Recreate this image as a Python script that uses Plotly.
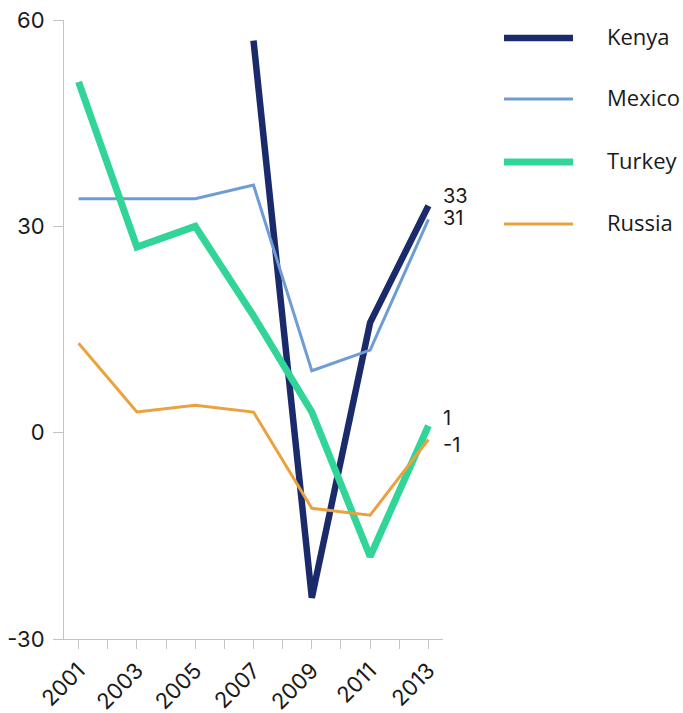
import plotly.graph_objects as go

# Data
years = [2001, 2003, 2005, 2007, 2009, 2011, 2013]
kenya = [None, None, None, 57, -24, 16, 33]
mexico = [34, 34, 34, 36, 9, 12, 31]
turkey = [51, 27, 30, 17, 3, -18, 1]
russia = [13, 3, 4, 3, -11, -12, -1]
y_ticks = [-30, 0, 30, 60]

series_names = ["Kenya", "Mexico", "Turkey", "Russia"]
series_values = [kenya, mexico, turkey, russia]

# Styling per series
colors = {"Kenya": "#1b2a6b", "Mexico": "#6d9dd4", "Turkey": "#30d597", "Russia": "#eba23e"}
widths = {"Kenya": 6.5, "Mexico": 3, "Turkey": 7, "Russia": 3}
label_yshift = {"Kenya": 10, "Mexico": 1, "Turkey": 8, "Russia": -5}

W, H = 683, 713
L, R, T, B = 64, 240, 20, 74
plot_w = W - L - R
plot_h = H - T - B

tick_font = dict(family="Inter, DejaVu Sans, sans-serif", size=22, color="#1a1a1a")
legend_font = dict(family="Open Sans, sans-serif", size=22, color="#1a1a1a")

fig = go.Figure()
for name, vals in zip(series_names, series_values):
    fig.add_trace(go.Scatter(
        x=years, y=vals, mode="lines", name=name,
        line=dict(color=colors[name], width=widths[name]),
        connectgaps=False, showlegend=False, hoverinfo="x+y+name",
    ))

annotations = []
shapes = []

# End-of-line value labels
for name, vals in zip(series_names, series_values):
    last = vals[-1]
    annotations.append(dict(
        x=years[-1], y=last, xref="x", yref="y", text=str(last),
        showarrow=False, xanchor="left", yanchor="middle",
        xshift=13, yshift=label_yshift[name],
        font=dict(family="Inter, DejaVu Sans, sans-serif", size=20, color="#1a1a1a"),
    ))

# Legend drawn on the right side
def px_x(px):
    return (px - L) / plot_w

def px_y(py):
    return (H - B - py) / plot_h

legend_rows = [38, 99, 162, 224]
for name, py in zip(series_names, legend_rows):
    shapes.append(dict(
        type="line", xref="paper", yref="paper",
        x0=px_x(504), x1=px_x(573), y0=px_y(py), y1=px_y(py),
        line=dict(color=colors[name], width=widths[name]),
    ))
    annotations.append(dict(
        x=px_x(605), y=px_y(py - 2), xref="paper", yref="paper",
        text=name, showarrow=False, xanchor="left", yanchor="middle",
        font=legend_font,
    ))

fig.update_layout(
    width=W, height=H,
    margin=dict(l=L, r=R, t=T, b=B, pad=0, autoexpand=False),
    plot_bgcolor="white", paper_bgcolor="white",
    annotations=annotations, shapes=shapes,
    showlegend=False,
)

fig.update_xaxes(
    range=[2000.5, 2013.5],
    tickvals=years, ticktext=[str(y) for y in years],
    tickangle=-45, tickfont=tick_font, automargin=False,
    ticks="outside", ticklen=9, tickcolor="#c4c4c4", tickwidth=1,
    minor=dict(dtick=1, tick0=2000, ticks="outside", ticklen=9, tickcolor="#c4c4c4", tickwidth=1),
    showline=True, linecolor="#c4c4c4", linewidth=1,
    showgrid=False, zeroline=False,
)
fig.update_yaxes(
    range=[-30, 60],
    tickvals=y_ticks, ticktext=[str(v) for v in y_ticks],
    tickfont=tick_font, automargin=False,
    ticks="outside", ticklen=10, tickcolor="#c4c4c4", tickwidth=1,
    ticklabelstandoff=4,
    showline=True, linecolor="#c4c4c4", linewidth=1,
    showgrid=False, zeroline=False,
)

fig.write_html("out.html")
